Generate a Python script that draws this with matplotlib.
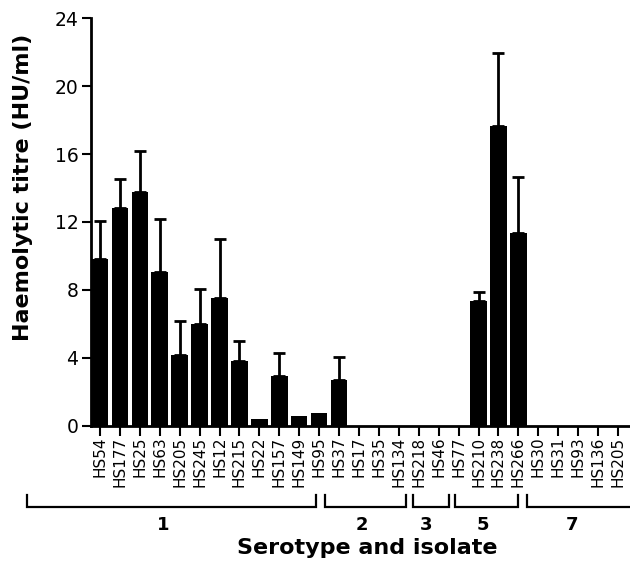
import matplotlib
matplotlib.use("Agg")
import matplotlib.pyplot as plt
import matplotlib.transforms as mtransforms
import numpy as np

isolates = ["HS54", "HS177", "HS25", "HS63", "HS205", "HS245", "HS12", "HS215",
            "HS22", "HS157", "HS149", "HS95", "HS37", "HS17", "HS35", "HS134",
            "HS218", "HS46", "HS77", "HS210", "HS238", "HS266", "HS30", "HS31",
            "HS93", "HS136", "HS205"]
titre = [9.84, 12.84, 13.78, 9.04, 4.18, 5.96, 7.49, 3.8,
         0.38, 2.93, 0.58, 0.72, 2.7, 0, 0, 0,
         0, 0, 0, 7.34, 17.65, 11.34, 0, 0,
         0, 0, 0]
upper = [12.06, 14.5, 16.2, 12.2, 6.18, 8.02, 11.0, 5.0,
         None, 4.26, None, None, 4.03, None, None, None,
         None, None, None, 7.87, 21.97, 14.66, None, None,
         None, None, None]
serotypes = ["1", "2", "3", "5", "7"]
# bracket extents (in bar-index units)
bracket_left = [-3.65, 11.30, 15.71, 17.82, 21.42]
bracket_right = [10.84, 15.36, 17.52, 20.98, 27.5]
label_x = [3.18, 13.14, 16.37, 19.23, 23.68]
yticks = [0, 4, 8, 12, 16, 20, 24]

fig = plt.figure(figsize=(6.3, 5.63), dpi=100)
ax = fig.add_axes([91 / 630, 1 - 425.5 / 563, 539 / 630, (425.5 - 18.3) / 563])

x = np.arange(len(isolates))
ax.bar(x, titre, width=0.83, color="black", zorder=2)

ex = [i for i, u in enumerate(upper) if u is not None]
ev = [titre[i] for i in ex]
eu = [upper[i] - titre[i] for i in ex]
ax.errorbar(ex, ev, yerr=[np.zeros(len(ex)), eu], fmt="none", ecolor="black",
            elinewidth=2.0, capsize=4.2, capthick=2.0, zorder=3)

ax.set_xlim(-0.45, 26.6)
ax.set_ylim(0, 24)
ax.set_yticks(yticks)
ax.set_yticklabels([str(t) for t in yticks], fontsize=13.5)
ax.set_xticks(x)
ax.set_xticklabels(isolates, rotation=90, fontsize=11, va="top")

for s in ["top", "right"]:
    ax.spines[s].set_visible(False)
for s in ["left", "bottom"]:
    ax.spines[s].set_linewidth(2.0)
ax.tick_params(axis="x", direction="out", length=7, width=1.5, pad=1)
ax.tick_params(axis="y", direction="out", length=6.5, width=1.5, pad=2.5)

ax.text(-0.126, 0.586, "Haemolytic titre (HU/ml)", transform=ax.transAxes,
        rotation=90, ha="center", va="center", fontsize=16, fontweight="bold")

trans = mtransforms.blended_transform_factory(ax.transData, ax.transAxes)
y_h = -0.201
y_top = -0.171
for l, r, lx, s in zip(bracket_left, bracket_right, label_x, serotypes):
    ax.plot([l, l, r, r], [y_top, y_h, y_h, y_top], color="black", lw=1.6,
            transform=trans, clip_on=False, solid_joinstyle="miter")
    ax.text(lx, -0.244, s, transform=trans, ha="center", va="center",
            fontsize=13, fontweight="bold")

ax.text(13.4, -0.301, "Serotype and isolate", transform=trans, ha="center",
        va="center", fontsize=16, fontweight="bold")

fig.savefig("out.png", dpi=100)
